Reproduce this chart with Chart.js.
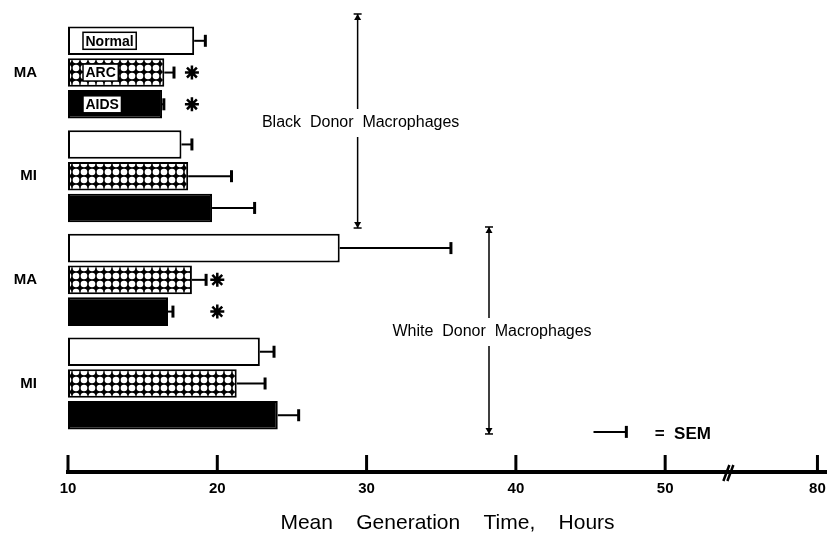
<!DOCTYPE html>
<html><head><meta charset="utf-8">
<script src="https://cdn.jsdelivr.net/npm/chart.js@4"></script>
<style>html,body{margin:0;padding:0;background:#fff}#wrap{width:827px;height:541px}</style>
</head><body><div id="wrap"><canvas id="c" width="827" height="541"></canvas></div>
<script>
// ---- data ----
const groups = ["MA", "MI", "MA", "MI"];
const seriesNames = ["Normal", "ARC", "AIDS"];
const normalMean = [18.45, 17.6, 28.2, 22.85];
const normalSem  = [0.75, 0.7, 7.45, 0.95];
const arcMean    = [16.45, 18.05, 18.3, 21.3];
const arcSem     = [0.65, 2.9, 0.95, 1.9];
const aidsMean   = [16.3, 19.65, 16.7, 24.05];
const aidsSem    = [0.12, 2.85, 0.33, 1.4];
const arcSignificant  = [true, false, true, false];
const aidsSignificant = [true, false, true, false];
const xTickValues = [10, 20, 30, 40, 50, 60.2];
const xTickLabels = ["10", "20", "30", "40", "50", "80"];
const xTitle = "Mean    Generation    Time,    Hours";

// ---- annotation placement (in axis units) ----
const starColumn = [18.3, null, 20.0, null];
const brackets = [
  { text: "Black  Donor  Macrophages", x: 29.4, from: -0.565, to: 1.5, labelAt: 0.487 },
  { text: "White  Donor  Macrophages", x: 38.2, from: 1.49, to: 3.487, labelAt: 2.503 }
];
const semKey = { x0: 45.2, x1: 47.4, y: 3.467, textX: 49.3, text: "=  SEM" };
const axisBreakAt = 54.3;
const barBase = 10;

const means = [normalMean, arcMean, aidsMean];
const sems = [normalSem, arcSem, aidsSem];
const sigs = [null, arcSignificant, aidsSignificant];

Chart.defaults.font.family = "'Liberation Sans', Arial, Helvetica, sans-serif";
Chart.defaults.color = "#000";

const canvas = document.getElementById('c');
const ctx0 = canvas.getContext('2d');
function dotPattern() {
  const c = document.createElement('canvas');
  c.width = 8; c.height = 8;
  const g = c.getContext('2d');
  g.fillStyle = '#000'; g.fillRect(0, 0, 8, 8);
  g.fillStyle = '#fff';
  g.beginPath(); g.arc(4, 4, 3.3, 0, Math.PI * 2); g.fill();
  return ctx0.createPattern(c, 'repeat');
}
const fills = ['#fff', dotPattern(), '#000'];

const datasets = means.map((arr, di) => ({
  label: seriesNames[di],
  data: arr.map((v, i) => ({ x: v, y: i })),
  base: barBase,
  backgroundColor: fills[di],
  borderColor: '#000',
  borderWidth: 2,
  borderSkipped: false,
  clip: false,
  categoryPercentage: 0.919,
  barPercentage: 0.9
}));

function drawStar(ctx, x, y, r) {
  ctx.beginPath();
  for (let k = 0; k < 4; k++) {
    const a = k * Math.PI / 4;
    ctx.moveTo(x - r * Math.cos(a), y - r * Math.sin(a));
    ctx.lineTo(x + r * Math.cos(a), y + r * Math.sin(a));
  }
  ctx.stroke();
}
function drawCap(ctx, x, y, dir) {
  ctx.beginPath();
  ctx.moveTo(x - 4, y); ctx.lineTo(x + 4, y); ctx.stroke();
  ctx.beginPath();
  ctx.moveTo(x, y); ctx.lineTo(x - 3.5, y + dir * 6); ctx.lineTo(x + 3.5, y + dir * 6); ctx.closePath();
  ctx.fill();
}

const annot = {
  id: 'annot',
  afterDatasetsDraw(chart) {
    const ctx = chart.ctx, xs = chart.scales.x, ys = chart.scales.y;
    ctx.save();
    ctx.strokeStyle = '#000'; ctx.fillStyle = '#000';
    sems.forEach((sem, di) => {
      const meta = chart.getDatasetMeta(di);
      meta.data.forEach((bar, i) => {
        const x0 = bar.x, x1 = xs.getPixelForValue(means[di][i] + sem[i]);
        ctx.lineWidth = 2;
        ctx.beginPath(); ctx.moveTo(x0, bar.y); ctx.lineTo(x1, bar.y); ctx.stroke();
        ctx.lineWidth = 3;
        ctx.beginPath(); ctx.moveTo(x1, bar.y - 6); ctx.lineTo(x1, bar.y + 6); ctx.stroke();
        if (sigs[di] && sigs[di][i] && starColumn[i] != null) {
          ctx.lineWidth = 2.5;
          drawStar(ctx, xs.getPixelForValue(starColumn[i]), bar.y, 7);
        }
      });
    });
    ctx.font = "bold 14px 'Liberation Sans', Arial, sans-serif";
    ctx.textBaseline = 'middle';
    ctx.textAlign = 'left';
    seriesNames.forEach((name, di) => {
      const bar = chart.getDatasetMeta(di).data[0];
      const w = ctx.measureText(name).width;
      const bx = bar.base + 15, by = bar.y;
      ctx.fillStyle = '#fff';
      ctx.fillRect(bx, by - 8.5, w + 5, 17);
      ctx.lineWidth = 1.5; ctx.strokeStyle = '#000';
      ctx.strokeRect(bx, by - 8.5, w + 5, 17);
      ctx.fillStyle = '#000';
      ctx.fillText(name, bx + 2.5, by + 1);
    });
    ctx.font = "16px 'Liberation Sans', Arial, sans-serif";
    ctx.textAlign = 'center';
    brackets.forEach(b => {
      const x = xs.getPixelForValue(b.x);
      const y0 = ys.getPixelForValue(b.from), y1 = ys.getPixelForValue(b.to), yl = ys.getPixelForValue(b.labelAt);
      ctx.lineWidth = 1.5;
      ctx.beginPath(); ctx.moveTo(x, y0); ctx.lineTo(x, yl - 14); ctx.moveTo(x, yl + 14); ctx.lineTo(x, y1); ctx.stroke();
      drawCap(ctx, x, y0, 1);
      drawCap(ctx, x, y1, -1);
      ctx.fillText(b.text, x + 3, yl);
    });
    const ky = ys.getPixelForValue(semKey.y);
    const kx0 = xs.getPixelForValue(semKey.x0), kx1 = xs.getPixelForValue(semKey.x1);
    ctx.lineWidth = 2;
    ctx.beginPath(); ctx.moveTo(kx0, ky); ctx.lineTo(kx1, ky); ctx.stroke();
    ctx.lineWidth = 3;
    ctx.beginPath(); ctx.moveTo(kx1, ky - 6); ctx.lineTo(kx1, ky + 6); ctx.stroke();
    ctx.font = "bold 17px 'Liberation Sans', Arial, sans-serif";
    ctx.textAlign = 'left';
    ctx.fillText(semKey.text, xs.getPixelForValue(semKey.textX), ky + 2);
    ctx.restore();
  },
  afterDraw(chart) {
    const ctx = chart.ctx, xs = chart.scales.x;
    const yb = chart.chartArea.bottom;
    ctx.save();
    ctx.strokeStyle = '#000'; ctx.lineWidth = 3;
    xs.ticks.forEach(t => {
      const x = xs.getPixelForValue(t.value);
      ctx.beginPath(); ctx.moveTo(x, yb); ctx.lineTo(x, yb - 17); ctx.stroke();
    });
    const bx = xs.getPixelForValue(axisBreakAt);
    ctx.lineWidth = 2.5;
    ctx.beginPath();
    ctx.moveTo(bx - 6, yb + 9); ctx.lineTo(bx, yb - 7);
    ctx.moveTo(bx - 2, yb + 9); ctx.lineTo(bx + 4, yb - 7);
    ctx.stroke();
    ctx.restore();
  }
};

new Chart(canvas, {
  type: 'bar',
  data: { datasets },
  options: {
    indexAxis: 'y',
    responsive: false,
    animation: false,
    devicePixelRatio: 1,
    layout: { padding: 0 },
    plugins: { legend: { display: false }, tooltip: { enabled: false } },
    scales: {
      y: {
        type: 'linear',
        reverse: true,
        offset: false,
        min: -0.70,
        max: 3.854,
        grid: { display: false, drawTicks: false, offset: false },
        border: { display: false },
        afterBuildTicks(s) { s.ticks = groups.map((g, i) => ({ value: i })); },
        afterFit(s) { s.width = 68; s.paddingTop = 0; s.paddingBottom = 0; },
        ticks: {
          padding: 31,
          font: { size: 15, weight: 'bold' },
          color: '#000',
          callback: (v, i) => groups[i]
        }
      },
      x: {
        type: 'linear',
        min: 10,
        max: 60.84,
        grid: { display: false, drawTicks: false },
        border: { display: true, color: '#000', width: 4 },
        afterBuildTicks(s) { s.ticks = xTickValues.map(v => ({ value: v })); },
        afterFit(s) { s.height = 69; s.paddingRight = 0; },
        ticks: {
          padding: 8,
          maxRotation: 0,
          autoSkip: false,
          font: { size: 15, weight: 'bold' },
          color: '#000',
          callback: (v, i) => xTickLabels[i]
        },
        title: {
          display: true,
          text: xTitle,
          color: '#000',
          font: { size: 21, weight: 'normal' },
          padding: { top: 0, bottom: 5 }
        }
      }
    }
  },
  plugins: [annot]
});
</script>
</body></html>
